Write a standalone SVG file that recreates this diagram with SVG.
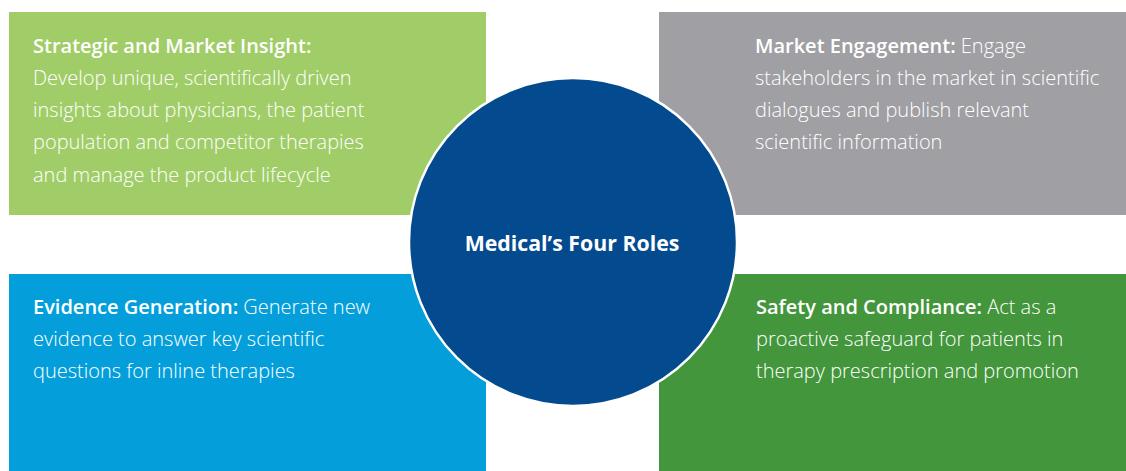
<svg xmlns="http://www.w3.org/2000/svg" width="1126" height="471" viewBox="0 0 1126 471">
<style>
.t{font-family:"Open Sans","Noto Sans",sans-serif;font-size:20px;fill:#ffffff;font-weight:300}
.b{font-weight:600}
.c{font-family:"Open Sans","Noto Sans",sans-serif;font-size:21.3px;fill:#ffffff;font-weight:700}
</style>
<rect width="1126" height="471" fill="#ffffff"/>
<g id="strategic">
<rect x="9" y="12" width="477" height="203" fill="#A0CD67"/>
<text class="t" x="33"><tspan class="b" x="33" y="53">Strategic and Market Insight:</tspan><tspan x="33" y="85">Develop unique, scientifically driven</tspan><tspan x="33" y="117">insights about physicians, the patient</tspan><tspan x="33" y="149">population and competitor therapies</tspan><tspan x="33" y="182">and manage the product lifecycle</tspan></text>
</g>
<g id="engagement">
<rect x="659" y="12" width="467" height="203" fill="#A09FA3"/>
<text class="t"><tspan x="755" y="53"><tspan class="b">Market Engagement:</tspan> Engage</tspan><tspan x="755" y="85">stakeholders in the market in scientific</tspan><tspan x="755" y="117">dialogues and publish relevant</tspan><tspan x="755" y="149">scientific information</tspan></text>
</g>
<g id="evidence">
<rect x="9" y="274" width="477" height="197" fill="#049FDA"/>
<text class="t"><tspan x="33" y="314"><tspan class="b">Evidence Generation:</tspan> Generate new</tspan><tspan x="33" y="346">evidence to answer key scientific</tspan><tspan x="33" y="378">questions for inline therapies</tspan></text>
</g>
<g id="safety">
<rect x="659" y="274" width="467" height="197" fill="#43963B"/>
<text class="t"><tspan x="756" y="314"><tspan class="b">Safety and Compliance:</tspan> Act as a</tspan><tspan x="756" y="346">proactive safeguard for patients in</tspan><tspan x="756" y="378">therapy prescription and promotion</tspan></text>
</g>
<g id="center">
<circle cx="573" cy="242" r="164" fill="#034A8F" stroke="#ffffff" stroke-width="2.5"/>
<text class="c" x="572" y="251" text-anchor="middle">Medical’s Four Roles</text>
</g>
<g id="connectors"/>
</svg>
